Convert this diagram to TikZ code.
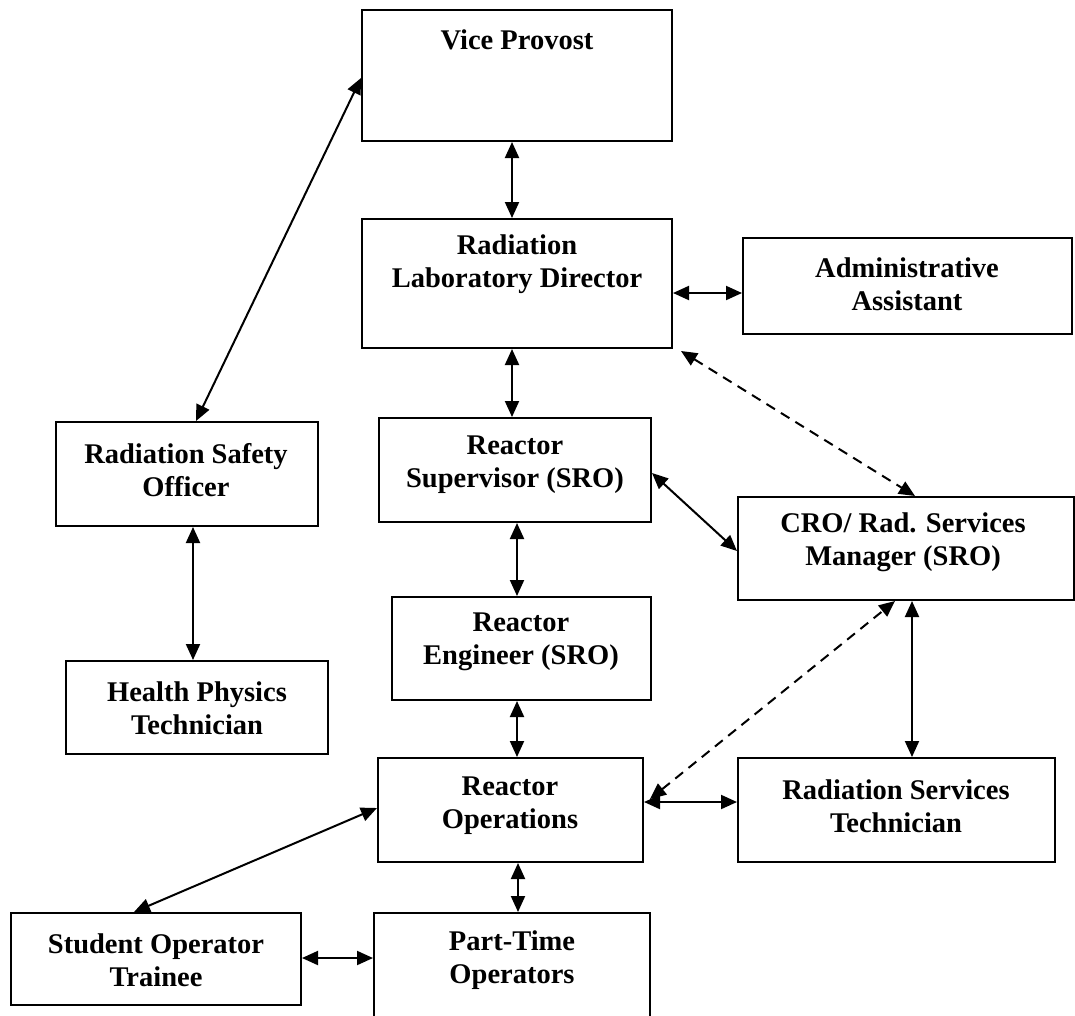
\documentclass[tikz,border=0pt]{standalone}
\usepackage{fontspec}
\setmainfont{Liberation Serif}
\usetikzlibrary{arrows.meta}
\begin{document}
\begin{tikzpicture}[x=1pt,y=-1pt,
  box/.style={draw, line width=2pt, rectangle, inner sep=0pt},
  lbl/.style={font=\fontsize{28.5}{33}\selectfont\bfseries, align=center, inner sep=0pt},
  link/.style={line width=2pt, {Triangle[length=16pt,width=14pt]}-{Triangle[length=16pt,width=14pt]}},
  dlink/.style={link, dash pattern=on 10pt off 7pt}]

\clip (0,0) rectangle (1075,1015);
\fill[white] (0,0) rectangle (1075,1015);

% boxes
\node[box, minimum width=310pt, minimum height=131pt] (vp)  at (517,75.5)  {};
\node[box, minimum width=310pt, minimum height=129pt] (rld) at (517,283.5) {};
\node[box, minimum width=329pt, minimum height=96pt]  (adm) at (907.5,286) {};
\node[box, minimum width=262pt, minimum height=104pt] (rso) at (187,474)   {};
\node[box, minimum width=272pt, minimum height=104pt] (rs)  at (515,470)   {};
\node[box, minimum width=336pt, minimum height=103pt] (cro) at (906,548.5) {};
\node[box, minimum width=262pt, minimum height=93pt]  (hpt) at (197,707.5) {};
\node[box, minimum width=259pt, minimum height=103pt] (re)  at (521.5,648.5) {};
\node[box, minimum width=265pt, minimum height=104pt] (ro)  at (510.5,810) {};
\node[box, minimum width=317pt, minimum height=104pt] (rst) at (896.5,810) {};
\node[box, minimum width=290pt, minimum height=92pt]  (sot) at (156,959)   {};
\node[box, minimum width=276pt, minimum height=112pt] (pto) at (512,969)   {};

% labels
\node[lbl] (vp-t)  at (517,40)   {Vice Provost};
\node[lbl] (rld-t) at (517,264)  {Radiation\\Laboratory Director};
\node[lbl] (adm-t) at (907,284)  {Administrative\\Assistant};
\node[lbl] (rso-t) at (186,470)  {Radiation Safety\\Officer};
\node[lbl] (rs-t)  at (515,465)  {Reactor\\Supervisor (SRO)};
\node[lbl] (cro-t) at (903,542)  {CRO/ Rad. Services\\Manager (SRO)};
\node[lbl] (hpt-t) at (197,708)  {Health Physics\\Technician};
\node[lbl] (re-t)  at (521,642)  {Reactor\\Engineer (SRO)};
\node[lbl] (ro-t)  at (510,806)  {Reactor\\Operations};
\node[lbl] (rst-t) at (896,806)  {Radiation Services\\Technician};
\node[lbl] (sot-t) at (156,960)  {Student Operator\\Trainee};
\node[lbl] (pto-t) at (512,960)  {Part-Time\\Operators};

% reporting lines
\draw[link] ([xshift=-5pt]vp.south) -- ([xshift=-5pt]rld.north);
\draw[link] ([yshift=-2.5pt]vp.west) -- ([xshift=9pt]rso.north);
\draw[link] ([yshift=-9.5pt]rld.east) -- ([yshift=-7pt]adm.west);
\draw[link] ([xshift=-5pt]rld.south) -- ([xshift=-3pt]rs.north);
\draw[dlink] ([xshift=8pt,yshift=-2pt]rld.south east) -- ([xshift=9pt]cro.north);
\draw[link] ([yshift=-3pt]rs.east) -- ([yshift=-2.5pt]cro.west);
\draw[link] ([xshift=2pt]rs.south) -- ([xshift=-4.5pt]re.north);
\draw[link] ([xshift=6pt]rso.south) -- ([xshift=-4pt]hpt.north);
\draw[link] ([xshift=-4.5pt]re.south) -- ([xshift=6.5pt]ro.north);
\draw[dlink] ([xshift=6pt,yshift=11pt]ro.east) -- ([xshift=-11pt]cro.south);
\draw[link] ([xshift=6pt]cro.south) -- ([xshift=15.5pt]rst.north);
\draw[link] ([yshift=8pt]ro.east) -- ([yshift=8pt]rst.west);
\draw[link] ([yshift=2pt]ro.west) -- ([xshift=-22pt]sot.north);
\draw[link] ([xshift=7.5pt]ro.south) -- ([xshift=6pt]pto.north);
\draw[link] ([yshift=1pt]sot.east) -- ([yshift=11pt]pto.west);
\end{tikzpicture}
\end{document}
